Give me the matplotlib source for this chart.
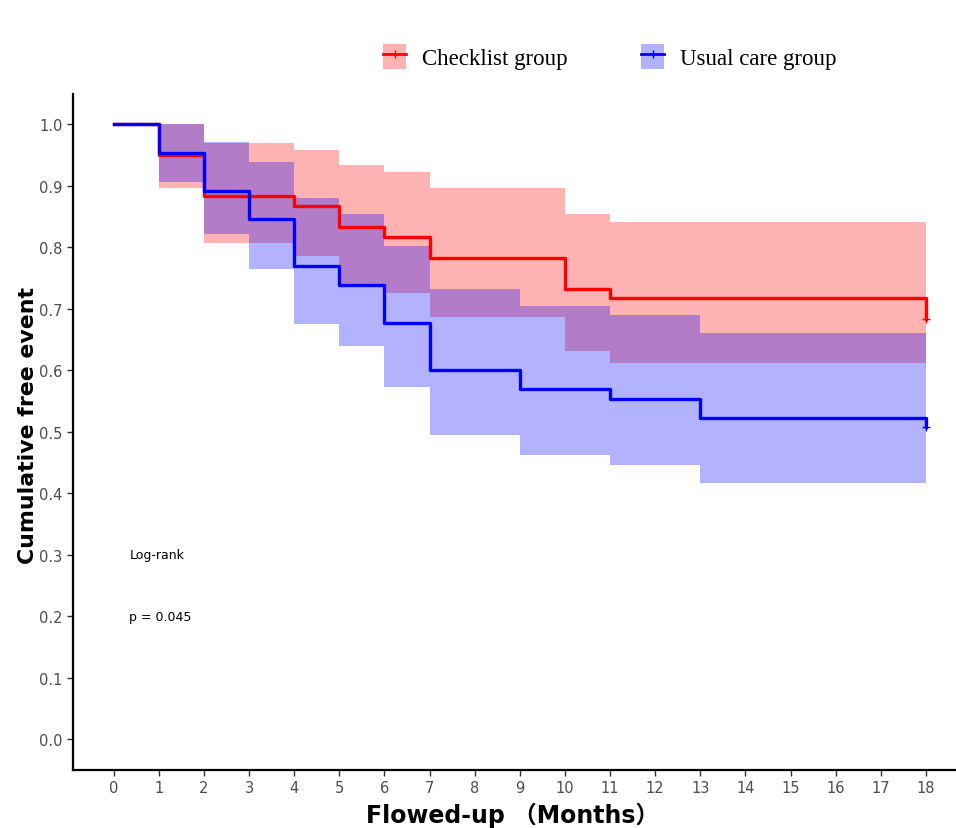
import numpy as np
import matplotlib
matplotlib.use('Agg')
import matplotlib.pyplot as plt
from matplotlib.patches import Patch
from matplotlib.lines import Line2D

# checklist group: KM steps and 95% CI
red_t = [0, 1, 2, 4, 5, 6, 7, 10, 11, 18]
red_s = [1.0, 0.950, 0.883, 0.867, 0.833, 0.817, 0.783, 0.733, 0.717, 0.683]
red_hi = [1.0, 1.0, 0.970, 0.958, 0.934, 0.922, 0.896, 0.855, 0.842, 0.842]
red_lo = [1.0, 0.897, 0.807, 0.786, 0.740, 0.726, 0.686, 0.631, 0.612, 0.612]

# usual care group
blue_t = [0, 1, 2, 3, 4, 5, 6, 7, 9, 11, 13, 18]
blue_s = [1.0, 0.954, 0.892, 0.846, 0.769, 0.738, 0.677, 0.600, 0.569, 0.554, 0.523, 0.508]
blue_hi = [1.0, 1.0, 0.971, 0.939, 0.880, 0.854, 0.802, 0.732, 0.704, 0.690, 0.661, 0.661]
blue_lo = [1.0, 0.906, 0.821, 0.765, 0.675, 0.640, 0.573, 0.494, 0.462, 0.446, 0.416, 0.416]

group_names = ['Checklist group', 'Usual care group']
x_ticks = list(range(0, 19))
y_ticks = [0.0, 0.1, 0.2, 0.3, 0.4, 0.5, 0.6, 0.7, 0.8, 0.9, 1.0]


def main():
	fig = plt.figure(figsize=(9.56, 8.29), dpi=100)
	ax = fig.add_axes([0.0764, 0.0703, 0.9347, 0.8154])

	# order matters: blue band goes over the red line (gives the maroon bits)
	ax.fill_between(red_t, red_lo, red_hi, step='post', color='red', alpha=0.3, lw=0)
	ax.step(red_t, red_s, where='post', color='red', lw=2.4)
	ax.plot(red_t[-1], red_s[-1], marker='+', color='red', ms=6, mew=1)
	ax.fill_between(blue_t, blue_lo, blue_hi, step='post', color='blue', alpha=0.3, lw=0)
	ax.step(blue_t, blue_s, where='post', color='blue', lw=2.4)
	ax.plot(blue_t[-1], blue_s[-1], marker='+', color='blue', ms=6, mew=1)

	ax.text(0.35, 0.3, 'Log-rank', fontsize=9, va='center', ha='left')
	ax.text(0.35, 0.2, 'p = 0.045', fontsize=9, va='center', ha='left')

	ax.set_xlim(-0.9, 18.9)
	ax.set_ylim(-0.05, 1.05)
	ax.set_xticks(x_ticks)
	ax.set_yticks(y_ticks)
	ax.set_yticklabels(['%.1f' % v for v in y_ticks])
	ax.tick_params(labelsize=10.5, labelcolor='#4D4D4D', length=4, width=1, color='#333333')
	for s in ['top', 'right']:
		ax.spines[s].set_visible(False)
	for s in ['left', 'bottom']:
		ax.spines[s].set_linewidth(1.6)
		ax.spines[s].set_color('black')

	ax.set_ylabel('Cumulative free event', fontsize=15.8, fontweight='bold')
	ax.yaxis.set_label_coords(-0.039, 0.51)
	ax.set_xlabel('Flowed-up （Months）', fontsize=17, fontweight='bold',
		family=['DejaVu Sans', 'Noto Sans CJK SC'])
	ax.xaxis.set_label_coords(0.492, -0.048)

	handles = [
		(Patch(facecolor='red', alpha=0.3, lw=0), Line2D([], [], color='red', lw=2, marker='|', ms=6)),
		(Patch(facecolor='blue', alpha=0.3, lw=0), Line2D([], [], color='blue', lw=2, marker='|', ms=6)),
	]
	fig.legend(handles, group_names, loc='center', bbox_to_anchor=(0.638, 0.931), ncol=2,
		frameon=False, prop={'family': 'Liberation Serif', 'size': 16.5},
		handlelength=1.0, handleheight=1.3, handletextpad=0.7, columnspacing=3.2)

	fig.savefig('out.png', dpi=100)


if __name__ == '__main__':
	main()
